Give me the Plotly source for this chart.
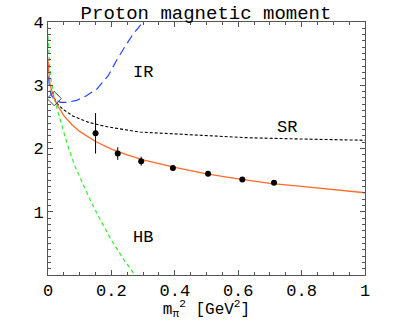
import plotly.graph_objects as go

# lattice points
lat_x = [0.150, 0.220, 0.294, 0.394, 0.505, 0.613, 0.713]
lat_y = [2.24, 1.92, 1.80, 1.69, 1.60, 1.51, 1.46]
lat_err = [0.32, 0.10, 0.07, 0.04, 0.03, 0.02, 0.02]

# experiment
exp_x = [0.0195]
exp_y = [2.79]

# fit curve (orange)
fit_x = [0, 0.002, 0.005, 0.01, 0.02, 0.03, 0.05, 0.075, 0.1, 0.15, 0.2, 0.25, 0.3,
         0.4, 0.5, 0.6, 0.7, 0.8, 0.9, 1.0]
fit_y = [3.40, 3.18, 3.06, 2.94, 2.79, 2.68, 2.52, 2.38, 2.27, 2.11, 1.99, 1.90, 1.82,
         1.70, 1.60, 1.52, 1.45, 1.40, 1.35, 1.30]

# SR (black dashed)
sr_x = [0.02, 0.03, 0.05, 0.08, 0.13, 0.19, 0.29, 0.4, 0.5, 0.63, 0.8, 1.0]
sr_y = [2.79, 2.70, 2.61, 2.51, 2.41, 2.34, 2.26, 2.23, 2.21, 2.17, 2.15, 2.13]

# IR (blue dashed)
ir_x = [0, 0.001, 0.003, 0.006, 0.01, 0.02, 0.04, 0.06, 0.09, 0.12, 0.154, 0.19, 0.217,
        0.245, 0.27, 0.30]
ir_y = [3.36, 3.20, 3.05, 2.93, 2.85, 2.77, 2.73, 2.73, 2.76, 2.83, 2.94, 3.15, 3.40,
        3.63, 3.82, 4.0]

# HB (green dashed)
hb_x = [0, 0.005, 0.01, 0.02, 0.03, 0.045, 0.065, 0.085, 0.1, 0.13, 0.16, 0.2, 0.24, 0.274]
hb_y = [3.78, 3.30, 3.08, 2.80, 2.60, 2.33, 2.00, 1.72, 1.55, 1.22, 0.92, 0.55, 0.24, 0.0]

labels = ["IR", "SR", "HB"]
label_x = [0.30, 0.754, 0.30]
label_y = [3.2, 2.33, 0.6]

font = "Liberation Mono, Courier New, monospace"

fig = go.Figure()
fig.add_trace(go.Scatter(x=hb_x, y=hb_y, mode="lines",
                         line=dict(color="#33ee33", width=1.2, dash="4px,3px")))
fig.add_trace(go.Scatter(x=ir_x, y=ir_y, mode="lines",
                         line=dict(color="#2244ff", width=1.2, dash="9px,5px")))
fig.add_trace(go.Scatter(x=sr_x, y=sr_y, mode="lines",
                         line=dict(color="black", width=1.1, dash="3px,2px")))
fig.add_trace(go.Scatter(x=fit_x, y=fit_y, mode="lines", line=dict(color="#ff6a2a", width=1.3)))
fig.add_trace(go.Scatter(x=lat_x, y=lat_y, mode="markers",
                         marker=dict(color="black", size=6),
                         error_y=dict(type="data", array=lat_err, color="black",
                                      thickness=1, width=0)))
fig.add_trace(go.Scatter(x=exp_x, y=exp_y, mode="markers",
                         marker=dict(symbol="diamond-open", size=11, color="#444444",
                                     line=dict(width=1))))

for t, x, y in zip(labels, label_x, label_y):
    fig.add_annotation(x=x, y=y, text=t, showarrow=False,
                       font=dict(family=font, size=17, color="black"))

fig.update_layout(
    width=400, height=320,
    margin=dict(l=48, r=35, t=22, b=45),
    paper_bgcolor="white", plot_bgcolor="white",
    showlegend=False,
    title=dict(text="Proton magnetic moment", x=0.515, xanchor="center",
               y=0.9625, yanchor="middle",
               font=dict(family=font, size=19, color="black")),
    font=dict(family=font, color="black"),
)
fig.update_xaxes(range=[0, 1], tickvals=[0, 0.2, 0.4, 0.6, 0.8, 1],
                 ticktext=["0", "0.2", "0.4", "0.6", "0.8", "1"],
                 ticks="inside", ticklen=5, tickcolor="#555", automargin=False,
                 minor=dict(dtick=0.05, ticks="inside", ticklen=3, tickcolor="#555"),
                 showgrid=False, showline=True, linecolor="#555", linewidth=1, mirror="ticks",
                 zeroline=True, zerolinecolor="#bbbbbb", zerolinewidth=2.5,
                 tickfont=dict(family=font, size=17),
                 title=dict(text="m<sub>π</sub><sup>2</sup> [GeV<sup>2</sup>]", standoff=2,
                            font=dict(family=font, size=16)))
fig.update_yaxes(range=[0, 4], tickvals=[1, 2, 3, 4],
                 ticks="inside", ticklen=5, tickcolor="#555", automargin=False,
                 minor=dict(dtick=0.1, ticks="inside", ticklen=3, tickcolor="#555"),
                 showgrid=False, showline=True, linecolor="#555", linewidth=1, mirror="ticks",
                 zeroline=False, tickfont=dict(family=font, size=17))

# page body has a default 8px margin; drop it so the figure sits at the window corner
fig.write_html("out.html", config={"displayModeBar": False},
               post_script="document.body.style.margin='0';")
